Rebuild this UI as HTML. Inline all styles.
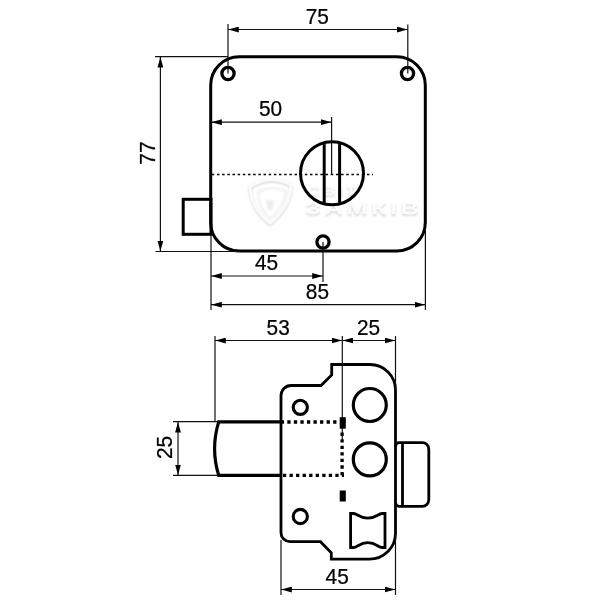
<!DOCTYPE html>
<html><head><meta charset="utf-8">
<style>
html,body{margin:0;padding:0;background:#fff;width:600px;height:600px;overflow:hidden}
svg{display:block;will-change:transform}
text{font-family:"Liberation Sans",sans-serif;font-size:21.5px;fill:#000;stroke:#000;stroke-width:0.25px}
</style></head><body>
<svg width="600" height="600" viewBox="0 0 600 600">
<defs>
<marker id="ar" viewBox="0 0 11 6" refX="10.8" refY="3" markerWidth="11" markerHeight="6" markerUnits="userSpaceOnUse" orient="auto-start-reverse">
<path d="M0,0.1 L10.5,3 L0,5.9 Z" fill="#000"/>
</marker>
</defs>
<rect width="600" height="600" fill="#fff"/>

<!-- watermark -->
<defs><filter id="bl" x="-20%" y="-20%" width="140%" height="140%"><feGaussianBlur stdDeviation="1.1"/></filter></defs>
<g filter="url(#bl)">
<path d="M250,187 Q270,173 291,185 Q290,207 270,223 Q251,208 250,187 Z" transform="translate(0,1.5)" fill="none" stroke="#dedede" stroke-width="3.5"/>
<path d="M258,191 Q272,184 286,190 Q284,206 270,218 Q258,206 258,191 Z" transform="translate(0,1)" fill="none" stroke="#e8e8e8" stroke-width="1.5"/>
<path d="M266,200 L274,200 L272,210 L268,210 Z" fill="#ececec"/>
<text transform="translate(307.5,196.5) scale(1.3,0.9)" style="font-size:13.5px;font-weight:bold;letter-spacing:2px;fill:#dcdcdc;stroke:none">СВІТ</text>
<text transform="translate(305,215.5) scale(1.55,1)" style="font-size:16.5px;font-weight:bold;letter-spacing:2.2px;fill:#d9d9d9;stroke:none">ЗАМКІВ</text>
</g>
<g>
<path d="M250,187 Q270,173 291,185 Q290,207 270,223 Q251,208 250,187 Z" fill="none" stroke="#fbfbfb" stroke-width="3"/>
<text transform="translate(307.5,195) scale(1.3,0.9)" style="font-size:13.5px;font-weight:bold;letter-spacing:2px;fill:#fcfcfc;stroke:none">СВІТ</text>
<text transform="translate(305,214) scale(1.55,1)" style="font-size:16.5px;font-weight:bold;letter-spacing:2.2px;fill:#fcfcfc;stroke:none">ЗАМКІВ</text>
</g>

<!-- ===== TOP FIGURE ===== -->
<g fill="none" stroke="#000" stroke-width="3">
<rect x="210.7" y="56.8" width="214.6" height="194.2" rx="28.5" ry="28.5"/>
<circle cx="228" cy="73.5" r="6.1" stroke-width="3.3"/>
<circle cx="407.5" cy="73.5" r="6.1" stroke-width="3.3"/>
<circle cx="323" cy="242" r="6.1" stroke-width="3.3"/>
<circle cx="332" cy="173.3" r="31.5"/>
<line x1="324.2" y1="142.5" x2="324.2" y2="204.3"/>
<line x1="339.6" y1="142.5" x2="339.6" y2="204.3"/>
<rect x="183.2" y="199.3" width="27.8" height="35"/>
</g>
<line x1="211.8" y1="174.5" x2="373" y2="174.5" stroke="#000" stroke-width="1.4" stroke-dasharray="2.5 2.67"/>

<g stroke="#111" stroke-width="1.2" fill="none">
<!-- 75 -->
<line x1="228" y1="24" x2="228" y2="73.5"/>
<line x1="407.8" y1="24.5" x2="407.8" y2="73.5"/>
<line x1="228" y1="29.5" x2="407.8" y2="29.5" marker-start="url(#ar)" marker-end="url(#ar)"/>
<!-- 77 -->
<line x1="155" y1="56.7" x2="228" y2="56.7"/>
<line x1="155.5" y1="251.5" x2="240" y2="251.5"/>
<line x1="160.4" y1="56.7" x2="160.4" y2="251.5" marker-start="url(#ar)" marker-end="url(#ar)"/>
<!-- 50 -->
<line x1="331.6" y1="117" x2="331.6" y2="174"/>
<line x1="211" y1="122.2" x2="331.6" y2="122.2" marker-start="url(#ar)" marker-end="url(#ar)"/>
<!-- 45 -->
<line x1="323" y1="242" x2="323" y2="282"/>
<line x1="211" y1="276" x2="323" y2="276" marker-start="url(#ar)" marker-end="url(#ar)"/>
<!-- 85 -->
<line x1="211" y1="234" x2="211" y2="310"/>
<line x1="425.4" y1="230" x2="425.4" y2="310"/>
<line x1="211" y1="304.7" x2="425.4" y2="304.7" marker-start="url(#ar)" marker-end="url(#ar)"/>
</g>
<text transform="translate(317.3,24.2) scale(0.97,1)" text-anchor="middle">75</text>
<text transform="translate(270.5,116) scale(0.97,1)" text-anchor="middle">50</text>
<text transform="translate(266.5,270) scale(0.97,1)" text-anchor="middle">45</text>
<text transform="translate(317.4,299) scale(0.97,1)" text-anchor="middle">85</text>
<text transform="translate(154.6,153.1) rotate(-90) scale(0.97,1)" text-anchor="middle">77</text>

<!-- ===== BOTTOM FIGURE ===== -->
<g fill="none" stroke="#000" stroke-width="2.8">
<path d="M291,385.5 L321,385.5 L331.7,375 L331.7,364.5 L370,364.5 A25.5,25.5 0 0 1 395.5,390 L395.5,533.2 A26,26 0 0 1 369.5,559.2 L331.3,559.2 L331.3,552.7 L320.5,541.7 L290,541.7 A9,9 0 0 1 281,532.7 L281,395.5 A10,10 0 0 1 291,385.5 Z"/>
<circle cx="300.3" cy="407.3" r="7.1" stroke-width="3.1"/>
<circle cx="300.3" cy="516.5" r="7.1" stroke-width="3.1"/>
<circle cx="369.8" cy="405" r="16.5" stroke-width="3.2"/>
<circle cx="369.8" cy="459.4" r="16.5" stroke-width="3.2"/>
<path d="M281,421.9 L218.7,421.9 A91,91 0 0 0 218.7,475.4 L281,475.4" stroke-width="3.2"/>
<path d="M395.5,447 Q395.5,442.7 399.5,442.7 L422.3,442.7 A6.5,6.5 0 0 1 428.8,449.2 L428.8,499.8 A6.5,6.5 0 0 1 422.3,506.3 L399.5,506.3 Q395.5,506.3 395.5,502"/>
<line x1="402.5" y1="442.7" x2="402.5" y2="506.3"/>
<path d="M350.6,513.5 L353.5,513.5 C357.5,513.5 359.5,518.2 367.8,518.2 C376.1,518.2 378.1,513.5 382.1,513.5 L385,513.5 L385,547.5 L382.1,547.5 C378.1,547.5 376.1,542.7 367.8,542.7 C359.5,542.7 357.5,547.5 353.5,547.5 L350.6,547.5 Z"/>
</g>
<g stroke="#000" stroke-width="3.3" fill="none" stroke-dasharray="3.3 3.25">
<line x1="280.75" y1="422" x2="338.5" y2="422"/>
<line x1="282.95" y1="475.3" x2="344" y2="475.3"/>
<line x1="342.1" y1="432.6" x2="342.1" y2="476"/>
</g>
<g stroke="#111" stroke-width="1.2" fill="none">
<line x1="342.3" y1="336" x2="342.3" y2="441"/>
<line x1="395.5" y1="336" x2="395.5" y2="390"/>
<line x1="215" y1="336" x2="215" y2="421.7"/>
<line x1="173" y1="421.7" x2="217.7" y2="421.7"/>
<line x1="173" y1="475.4" x2="217.7" y2="475.4"/>
<line x1="178" y1="421.7" x2="178" y2="475.4" marker-start="url(#ar)" marker-end="url(#ar)"/>
<line x1="215" y1="340.5" x2="342.3" y2="340.5" marker-start="url(#ar)" marker-end="url(#ar)"/>
<line x1="342.3" y1="340.5" x2="395.5" y2="340.5" marker-start="url(#ar)" marker-end="url(#ar)"/>
<line x1="281" y1="540" x2="281" y2="595"/>
<line x1="395.5" y1="534" x2="395.5" y2="595"/>
<line x1="281" y1="589.5" x2="395.5" y2="589.5" marker-start="url(#ar)" marker-end="url(#ar)"/>
</g>
<g fill="#000">
<rect x="339.7" y="417.2" width="6.1" height="11.5"/>
<rect x="339.7" y="490.5" width="6.1" height="11"/>
</g>
<text transform="translate(278.2,335) scale(0.97,1)" text-anchor="middle">53</text>
<text transform="translate(368.5,335) scale(0.97,1)" text-anchor="middle">25</text>
<text transform="translate(337.2,583.5) scale(0.97,1)" text-anchor="middle">45</text>
<text transform="translate(171.8,447.5) rotate(-90) scale(0.97,1)" text-anchor="middle">25</text>
</svg>
</body></html>
